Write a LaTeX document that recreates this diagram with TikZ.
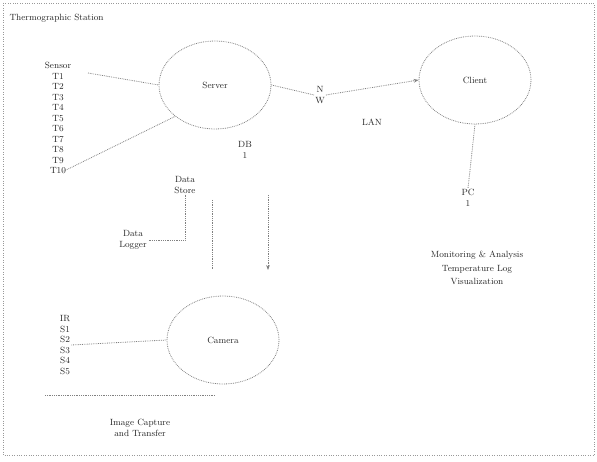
\documentclass[tikz,border=0pt]{standalone}
\usetikzlibrary{shapes.geometric,arrows.meta}
\begin{document}
\begin{tikzpicture}[x=1pt,y=-1pt,
  every node/.style={font=\fontsize{9}{10.5}\selectfont, text=black!85},
  cloudish/.style={draw=black!50, densely dotted, thick, ellipse, minimum width=112pt, minimum height=88pt},
  link/.style={draw=black!50, densely dotted, thick},
  arr/.style={link, -{Stealth[length=5pt]}},
  lab/.style={align=center, inner sep=1pt}]
\useasboundingbox (0,0) rectangle (597,462);
\draw[black!40, dotted] (3,3) rectangle (594,455);
\node[anchor=west] (title) at (6,18) {Thermographic Station};

\node[lab] (col1) at (58,118) {Sensor\\ T1\\ T2\\ T3\\ T4\\ T5\\ T6\\ T7\\ T8\\ T9\\ T10};
\node[cloudish] (srv) at (215,85) {Server};
\node[lab] (net) at (320,95) {N\\ W};
\node[cloudish] (cli) at (475,80) {Client};
\node[lab] (lan) at (372,122) {LAN};

\coordinate (c1) at (88,73);
\coordinate (c2) at (62,172);
\draw[link] (c1) -- (srv.west);
\draw[link] (c2) -- (srv.south west);
\draw[link] (srv.east) -- (net.west);
\draw[arr] (net.east) -- (cli.west);

\node[lab] (dev) at (468,198) {PC\\ 1};
\draw[link] (cli.south) -- (dev.north);
\node[lab] (info) at (477,268) {Monitoring \& Analysis\\[3pt] Temperature Log\\[3pt] Visualization};

\node[lab] (a1) at (245,150) {DB\\ 1};
\node[lab] (a2) at (185,185) {Data\\ Store};
\node[lab] (a3) at (133,240) {Data\\ Logger};
\coordinate (v1) at (212,200);
\coordinate (v2) at (212,270);
\coordinate (w1) at (268,195);
\coordinate (w2) at (268,270);
\draw[link] (v1) -- (v2);
\draw[arr] (w1) -- (w2);
\draw[link] (a2.south) |- (a3.east);

\node[cloudish] (bot) at (223,340) {Camera};
\node[lab] (col2) at (65,345) {IR\\ S1\\ S2\\ S3\\ S4\\ S5};
\draw[link] (col2.east) -- (bot.west);
\coordinate (h1) at (45,395);
\coordinate (h2) at (215,395);
\draw[link] (h1) -- (h2);
\node[lab] (cap) at (140,428) {Image Capture\\ and Transfer};
\end{tikzpicture}
\end{document}
